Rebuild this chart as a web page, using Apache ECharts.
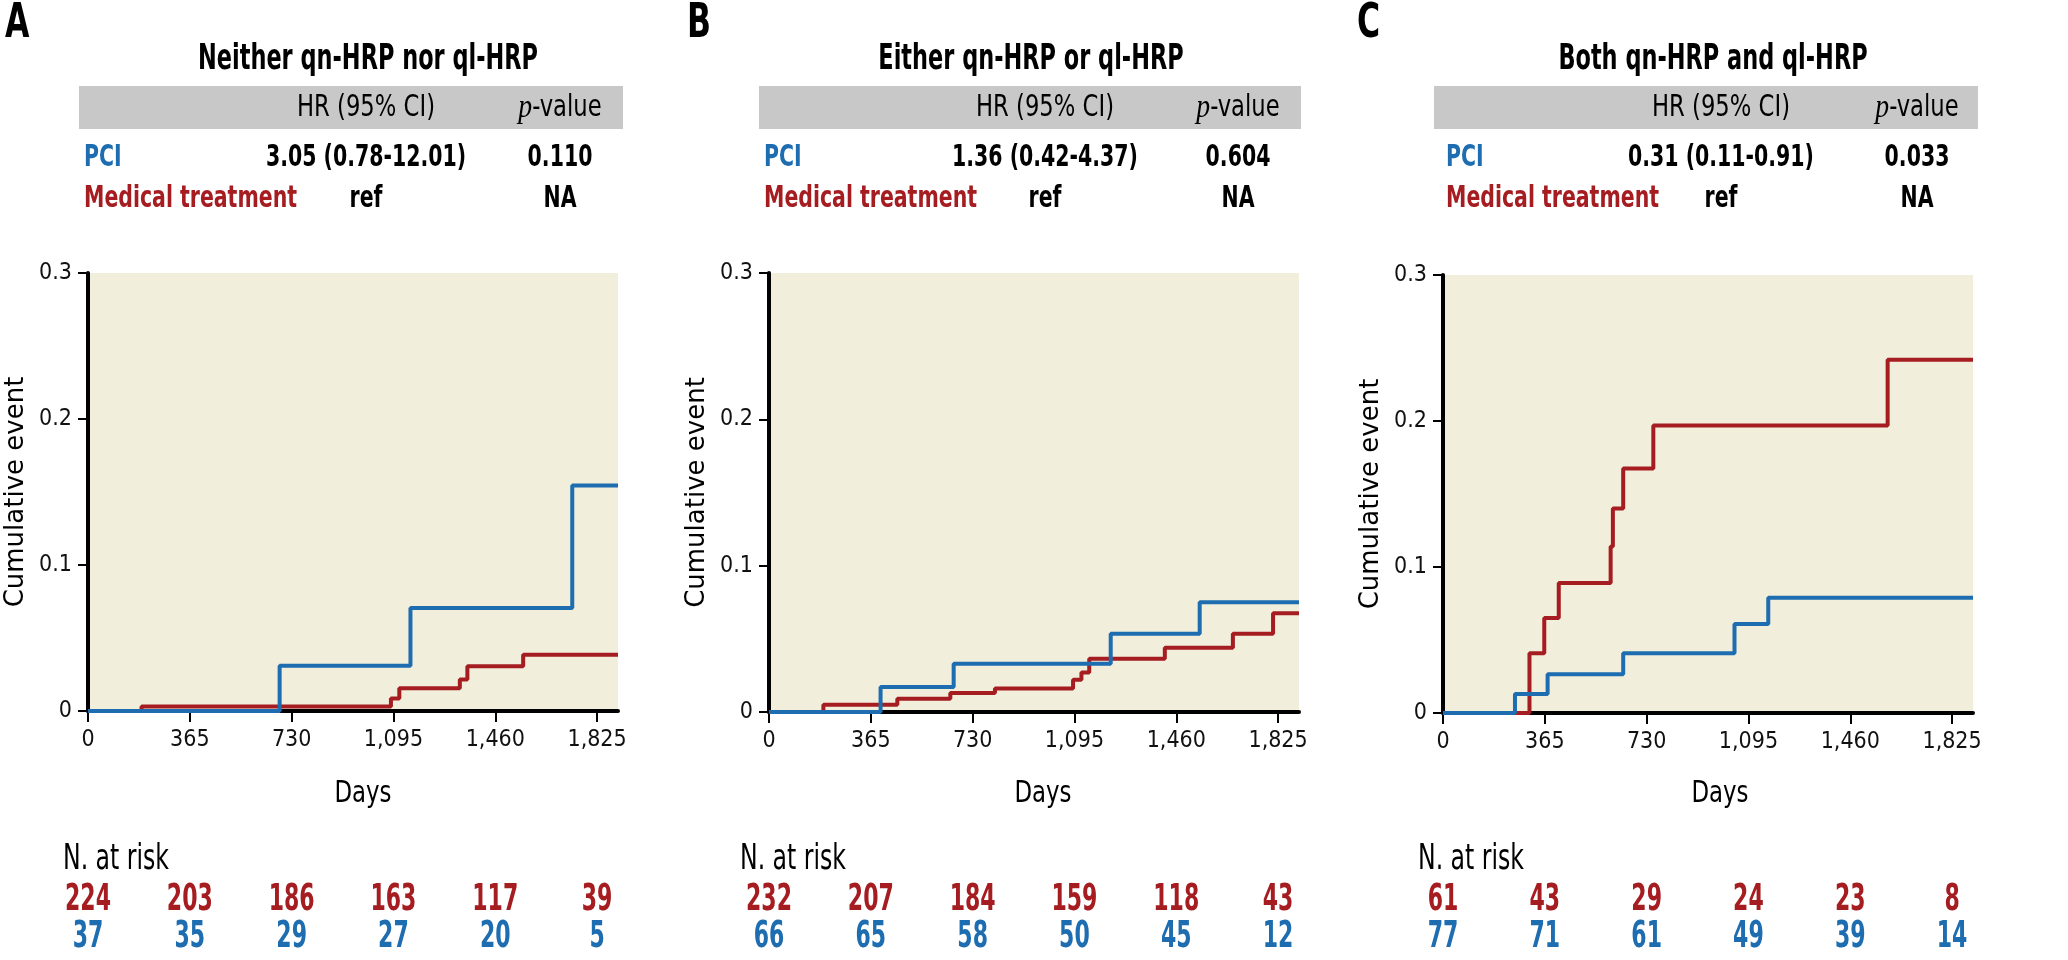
<!DOCTYPE html>
<html><head><meta charset="utf-8">
<script src="https://cdn.jsdelivr.net/npm/echarts@6/dist/echarts.min.js"></script>
<style>html,body{margin:0;padding:0;background:#fff}#c{width:2068px;height:960px}</style>
</head><body><div id="c"></div>
<script>
// ---------- data ----------
const panelLetters = ['A', 'B', 'C'];
const panelTitles = ['Neither qn-HRP nor ql-HRP', 'Either qn-HRP or ql-HRP', 'Both qn-HRP and ql-HRP'];
const groupNames = ['PCI', 'Medical treatment'];
const hrHeader = 'HR (95% CI)';
const hrPci = ['3.05 (0.78-12.01)', '1.36 (0.42-4.37)', '0.31 (0.11-0.91)'];
const pPci = ['0.110', '0.604', '0.033'];
const hrMed = ['ref', 'ref', 'ref'];
const pMed = ['NA', 'NA', 'NA'];

const xTicks = [0, 365, 730, 1095, 1460, 1825];
const xTickLabels = ['0', '365', '730', '1,095', '1,460', '1,825'];
const yTicks = [0, 0.1, 0.2, 0.3];
const yTickLabels = ['0', '0.1', '0.2', '0.3'];

// Panel A
const aPciDays = [0, 687, 1156, 1736, 1900];
const aPciRisk = [0, 0.031, 0.0705, 0.1545, 0.1545];
const aMedDays = [0, 192, 1086, 1116, 1333, 1360, 1560, 1900];
const aMedRisk = [0, 0.003, 0.0086, 0.0155, 0.0216, 0.0307, 0.0386, 0.0386];
// Panel B
const bPciDays = [0, 400, 662, 1225, 1544, 1900];
const bPciRisk = [0, 0.017, 0.033, 0.0534, 0.075, 0.075];
const bMedDays = [0, 195, 460, 650, 810, 1090, 1120, 1148, 1419, 1663, 1807, 1900];
const bMedRisk = [0, 0.005, 0.009, 0.013, 0.016, 0.022, 0.027, 0.0364, 0.0439, 0.0534, 0.0675, 0.0675];
// Panel C
const cPciDays = [0, 258, 375, 646, 1045, 1166, 1900];
const cPciRisk = [0, 0.013, 0.0266, 0.041, 0.061, 0.079, 0.079];
const cMedDays = [0, 310, 363, 415, 601, 609, 646, 754, 1594, 1900];
const cMedRisk = [0, 0.041, 0.065, 0.089, 0.114, 0.140, 0.1675, 0.197, 0.242, 0.242];

// Number at risk
const riskDays = [0, 365, 730, 1095, 1460, 1825];
const aRiskMed = [224, 203, 186, 163, 117, 39];
const aRiskPci = [37, 35, 29, 27, 20, 5];
const bRiskMed = [232, 207, 184, 159, 118, 43];
const bRiskPci = [66, 65, 58, 50, 45, 12];
const cRiskMed = [61, 43, 29, 24, 23, 8];
const cRiskPci = [77, 71, 61, 49, 39, 14];

// ---------- styling / layout ----------
const RED = '#a51c21';
const BLUE = '#1d6db0';
const BEIGE = '#f2eedc';
const GRAY = '#c8c8c8';
const COND = "'DejaVu Sans Condensed','DejaVu Sans',sans-serif";
const X_MAX = 1900;

const mctx = document.createElement('canvas').getContext('2d');
function fitScale(text, font, targetW) { mctx.font = font; return targetW / mctx.measureText(text).width; }
const F_TITLE = "bold 36px " + COND;
const F_ROW = "bold 31px " + COND;
const F_HEAD = "30px " + COND;
const F_DAYS = "30px " + COND;
const F_NRISK = "36px " + COND;
const F_NUM = "bold 38px " + COND;
const F_LETTER = "bold 48px " + COND;
const S_TITLE = fitScale('Neither qn-HRP nor ql-HRP', F_TITLE, 340);
const S_ROW = fitScale('Medical treatment', F_ROW, 213);
const S_HEAD = fitScale('HR (95% CI)', F_HEAD, 138);
const S_DAYS = fitScale('Days', F_DAYS, 57);
const S_NRISK = fitScale('N. at risk', F_NRISK, 106);
const S_NUM = fitScale('224', F_NUM, 46);
const S_LETTER = fitScale('B', F_LETTER, 24);

const layout = [
  { left: 88, width: 530, top: 273, height: 438, letterX: 5, titleX: 368, bandL: 79, bandR: 623, hrX: 366, pX: 560, nameX: 84, daysX: 363, riskX: 63 },
  { left: 769, width: 530, top: 273, height: 439, letterX: 687, titleX: 1031, bandL: 759, bandR: 1301, hrX: 1045, pX: 1238, nameX: 764, daysX: 1043, riskX: 740 },
  { left: 1443, width: 530, top: 275, height: 438, letterX: 1357, titleX: 1713, bandL: 1434, bandR: 1978, hrX: 1721, pX: 1917, nameX: 1446, daysX: 1720, riskX: 1418 }
];

const curves = [
  { pciD: aPciDays, pciV: aPciRisk, medD: aMedDays, medV: aMedRisk, rMed: aRiskMed, rPci: aRiskPci },
  { pciD: bPciDays, pciV: bPciRisk, medD: bMedDays, medV: bMedRisk, rMed: bRiskMed, rPci: bRiskPci },
  { pciD: cPciDays, pciV: cPciRisk, medD: cMedDays, medV: cMedRisk, rMed: cRiskMed, rPci: cRiskPci }
];

const grid = [], xAxis = [], yAxis = [], series = [], graphic = [];

function txt(x, y, text, font, scale, fill, align) {
  return { type: 'text', x: x, y: y, scaleX: scale, z: 5,
    style: { text: text, font: font, fill: fill, align: align, verticalAlign: 'middle' } };
}

layout.forEach((p, i) => {
  const c = curves[i];
  grid.push({ left: p.left, top: p.top, width: p.width, height: p.height, show: true, backgroundColor: BEIGE, borderWidth: 0 });
  xAxis.push({
    type: 'value', gridIndex: 2 * i, min: 0, max: X_MAX, interval: 365,
    axisLine: { show: true, onZero: false, lineStyle: { color: '#000', width: 4 } },
    axisTick: { show: true, length: 11, customValues: xTicks, lineStyle: { color: '#000', width: 2 } },
    axisLabel: { customValues: xTicks, margin: 18, color: '#111', fontSize: 23, fontFamily: COND,
      formatter: v => { const k = xTicks.indexOf(v); return k >= 0 ? xTickLabels[k] : ''; } },
    splitLine: { show: false }
  });
  yAxis.push({
    type: 'value', gridIndex: 2 * i, min: 0, max: 0.3, interval: 0.1,
    name: 'Cumulative event', nameLocation: 'middle', nameGap: 59,
    nameTextStyle: { fontFamily: 'DejaVu Sans', fontSize: 26, color: '#000' },
    axisLine: { show: true, lineStyle: { color: '#000', width: 4 } },
    axisTick: { show: true, length: 10, lineStyle: { color: '#000', width: 2 } },
    axisLabel: { margin: 16, color: '#111', fontSize: 23, fontFamily: COND,
      formatter: v => { const k = yTicks.findIndex(t => Math.abs(t - v) < 1e-9); return k >= 0 ? yTickLabels[k] : ''; } },
    splitLine: { show: false }
  });
  grid.push({ left: p.left, top: 900, width: p.width, height: 37, show: false });
  xAxis.push({ type: 'value', gridIndex: 2 * i + 1, min: 0, max: X_MAX, show: false });
  yAxis.push({ type: 'value', gridIndex: 2 * i + 1, min: 0, max: 1, show: false });

  series.push({
    type: 'line', xAxisIndex: 2 * i, yAxisIndex: 2 * i, step: 'end', showSymbol: false, symbol: 'none',
    data: c.medD.map((d, k) => [d, c.medV[k]]), lineStyle: { color: RED, width: 4 }, z: 3
  });
  series.push({
    type: 'line', xAxisIndex: 2 * i, yAxisIndex: 2 * i, step: 'end', showSymbol: false, symbol: 'none',
    data: c.pciD.map((d, k) => [d, c.pciV[k]]), lineStyle: { color: BLUE, width: 4 }, z: 4
  });
  const riskSeries = (vals, row, color) => ({
    type: 'custom', xAxisIndex: 2 * i + 1, yAxisIndex: 2 * i + 1, silent: true,
    data: riskDays.map((d, k) => [d, row, vals[k]]),
    renderItem: (params, api) => {
      const pt = api.coord([api.value(0), api.value(1)]);
      return { type: 'text', x: pt[0], y: pt[1], scaleX: S_NUM,
        style: { text: String(api.value(2)), font: F_NUM, fill: color, align: 'center', verticalAlign: 'middle' } };
    }
  });
  series.push(riskSeries(c.rMed, 1, RED));
  series.push(riskSeries(c.rPci, 0, BLUE));

  graphic.push(txt(p.letterX, 25, panelLetters[i], F_LETTER, S_LETTER, '#000', 'left'));
  graphic.push(txt(p.titleX, 60, panelTitles[i], F_TITLE, S_TITLE, '#000', 'center'));
  graphic.push({ type: 'rect', shape: { x: p.bandL, y: 86, width: p.bandR - p.bandL, height: 43 }, style: { fill: GRAY }, z: 1 });
  graphic.push(txt(p.hrX, 108, hrHeader, F_HEAD, S_HEAD, '#000', 'center'));
  const pv = txt(p.pX, 108, '{i|p}-value', F_HEAD, S_HEAD, '#000', 'center');
  pv.style.rich = { i: { fontStyle: 'italic', fontFamily: "'Liberation Serif',serif", fontSize: 33, fill: '#000' } };
  graphic.push(pv);
  graphic.push(txt(p.nameX, 158, groupNames[0], F_ROW, S_ROW, BLUE, 'left'));
  graphic.push(txt(p.hrX, 158, hrPci[i], F_ROW, S_ROW, '#000', 'center'));
  graphic.push(txt(p.pX, 158, pPci[i], F_ROW, S_ROW, '#000', 'center'));
  graphic.push(txt(p.nameX, 199, groupNames[1], F_ROW, S_ROW, RED, 'left'));
  graphic.push(txt(p.hrX, 199, hrMed[i], F_ROW, S_ROW, '#000', 'center'));
  graphic.push(txt(p.pX, 199, pMed[i], F_ROW, S_ROW, '#000', 'center'));
  graphic.push(txt(p.daysX, 794, 'Days', F_DAYS, S_DAYS, '#000', 'center'));
  graphic.push(txt(p.riskX, 860, 'N. at risk', F_NRISK, S_NRISK, '#000', 'left'));
});

const chart = echarts.init(document.getElementById('c'), null, { renderer: 'canvas' });
chart.setOption({ animation: false, backgroundColor: '#fff', grid, xAxis, yAxis, series, graphic });
</script></body></html>
